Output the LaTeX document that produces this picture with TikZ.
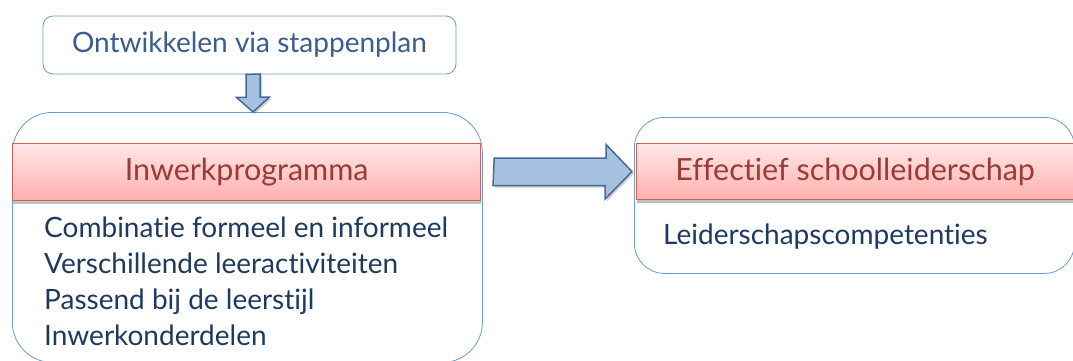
\documentclass[tikz,border=0pt]{standalone}
\usepackage{fontspec}
\setmainfont{Lato}[Ligatures={NoCommon,NoContextual}]
\usetikzlibrary{positioning,calc,shadows}
\definecolor{kaderblauw}{HTML}{6A9BD1}
\definecolor{planblauw}{HTML}{3A5C8E}
\definecolor{lijstblauw}{HTML}{1F3A60}
\definecolor{pijlvul}{HTML}{A6C0E0}
\definecolor{pijlrand}{HTML}{46699E}
\definecolor{koprand}{HTML}{D0605A}
\definecolor{koptekst}{HTML}{9A3B38}
\definecolor{kopboven}{HTML}{FFE8E8}
\definecolor{kITonder}{HTML}{FFB0AE}
\newcommand{\planfont}{\fontsize{28}{32}\selectfont}
\newcommand{\kopfont}{\fontsize{30.5}{34}\selectfont}
\newcommand{\lijstfont}{\fontsize{28}{32}\selectfont}

\begin{document}
\begin{tikzpicture}[x=1pt,y=-1pt,
    kader/.style={draw=kaderblauw,line width=0.8pt,fill=white,inner sep=0pt},
    kop/.style={draw=koprand,line width=1.2pt,top color=kopboven,bottom color=kITonder,
      text=koptekst,font=\kopfont,inner sep=0pt,
      drop shadow={shadow xshift=0pt,shadow yshift=-3pt,opacity=0.35,fill=black!70}},
    lijst/.style={text=lijstblauw,font=\lijstfont,inner sep=0pt},
    pijl/.style={draw=pijlrand,fill=pijlvul,line width=1.5pt,line join=miter,
      drop shadow={shadow xshift=2pt,shadow yshift=-2pt,opacity=0.3,fill=black!60}}]
    \clip (0,0) rectangle (1073,360);
    \useasboundingbox (0,0) rectangle (1073,360);
    % bovenste kader
    \node[kader,rounded corners=10pt,minimum width=413pt,minimum height=58pt,
      text=planblauw,font=\planfont] (plan) at (249.5,45) {Ontwikkelen via stappenplan};
    % linker kader
    \node[kader,rounded corners=40pt,minimum width=470pt,minimum height=250pt,anchor=north west]
      (inwerk) at (12,112) {};
    \node[kop,minimum width=468pt,minimum height=57pt,anchor=north west]
      (inwerkkop) at ($(inwerk.north west)+(0,31)$) {Inwerkprogramma};
    \foreach \regel [count=\i] in {Combinatie formeel en informeel,
        Verschillende leeractiviteiten,Passend bij de leerstijl,Inwerkonderdelen}
      \node[lijst,anchor=base west] (regel\i) at ($(inwerkkop.south west)+(32,36*\i)$) {\regel};
    % rechter kader
    \node[kader,rounded corners=30pt,minimum width=440pt,minimum height=156pt,anchor=north west]
      (effect) at (634,117) {};
    \node[kop,minimum width=437pt,minimum height=56pt,anchor=north west]
      (effectkop) at ($(effect.north west)+(2,26)$) {Effectief schoolleiderschap};
    \node[lijst,anchor=base west] (competenties) at ($(effectkop.south west)+(27,44)$)
      {Leiderschapscompetenties};
    % pijlen
    \coordinate (ds) at ($(plan.south)+(3.5,0)$);
    \draw[pijl] (ds) ++(-7,0) -- ++(0,23) -- ++(-9.5,0) -- (ds |- inwerk.north)
      -- ++(16.5,-15) -- ++(-9.5,0) -- ++(0,-23) -- cycle;
    \coordinate (rs) at ($(inwerkkop.east)+(13,0)$);
    \draw[pijl] (rs) ++(0,-14) -- ++(112,0) -- ++(0,-13.5) -- ($(effectkop.west)+(-4,0)$)
      -- ++(-27,27.5) -- ++(0,-13.5) -- ++(-112,0) -- cycle;
\end{tikzpicture}
\end{document}
